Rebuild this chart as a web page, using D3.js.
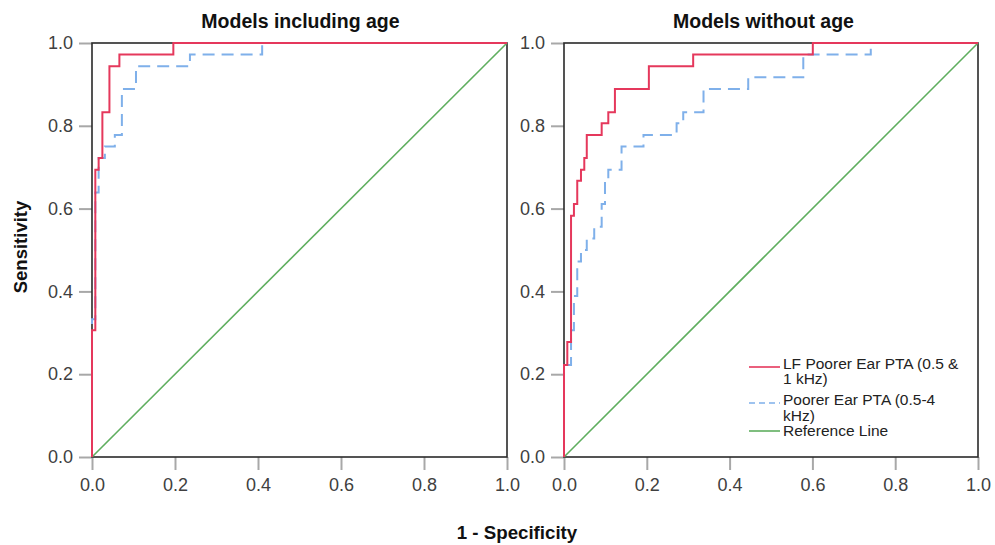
<!DOCTYPE html>
<html>
<head>
<meta charset="utf-8">
<script src="https://cdn.jsdelivr.net/npm/d3@7"></script>
<style>
  body { margin: 0; background: #fff; }
  svg { font-family: "Liberation Sans", Arial, sans-serif; }
</style>
</head>
<body>
<div id="chart"></div>
<script>
// ROC corner points (1 - specificity, sensitivity)
const ageLfFpr = [0, 0, 0.008, 0.008, 0.016, 0.016, 0.025, 0.025, 0.042, 0.042, 0.066, 0.066, 0.196, 0.196, 1]
const ageLfTpr = [0, 0.306, 0.306, 0.694, 0.694, 0.722, 0.722, 0.833, 0.833, 0.944, 0.944, 0.972, 0.972, 1, 1]

const agePtaFpr = [0, 0, 0.008, 0.008, 0.016, 0.016, 0.031, 0.031, 0.055, 0.055, 0.072, 0.072, 0.106, 0.106, 0.236, 0.236, 0.41, 0.41, 1]
const agePtaTpr = [0, 0.333, 0.333, 0.639, 0.639, 0.722, 0.722, 0.75, 0.75, 0.778, 0.778, 0.889, 0.889, 0.944, 0.944, 0.972, 0.972, 1, 1]

const noAgeLfFpr = [0, 0, 0.008, 0.008, 0.017, 0.017, 0.024, 0.024, 0.032, 0.032, 0.041, 0.041, 0.049, 0.049, 0.055, 0.055, 0.091, 0.091, 0.107, 0.107, 0.123, 0.123, 0.205, 0.205, 0.312, 0.312, 0.601, 0.601, 1]
const noAgeLfTpr = [0, 0.222, 0.222, 0.278, 0.278, 0.583, 0.583, 0.611, 0.611, 0.667, 0.667, 0.694, 0.694, 0.722, 0.722, 0.778, 0.778, 0.806, 0.806, 0.833, 0.833, 0.889, 0.889, 0.944, 0.944, 0.972, 0.972, 1, 1]

const noAgePtaFpr = [0, 0, 0.017, 0.017, 0.024, 0.024, 0.032, 0.032, 0.041, 0.041, 0.055, 0.055, 0.073, 0.073, 0.091, 0.091, 0.099, 0.099, 0.107, 0.107, 0.139, 0.139, 0.192, 0.192, 0.272, 0.272, 0.288, 0.288, 0.337, 0.337, 0.445, 0.445, 0.578, 0.578, 0.741, 0.741, 1]
const noAgePtaTpr = [0, 0.222, 0.222, 0.306, 0.306, 0.389, 0.389, 0.472, 0.472, 0.5, 0.5, 0.528, 0.528, 0.556, 0.556, 0.611, 0.611, 0.667, 0.667, 0.694, 0.694, 0.75, 0.75, 0.778, 0.778, 0.806, 0.806, 0.833, 0.833, 0.889, 0.889, 0.917, 0.917, 0.972, 0.972, 1, 1]

const refFpr = [0, 1]
const refTpr = [0, 1]

const panelTitles = ['Models including age', 'Models without age']
const tickValues = [0, 0.2, 0.4, 0.6, 0.8, 1.0]
const seriesNames = ['LF Poorer Ear PTA (0.5 & 1 kHz)', 'Poorer Ear PTA (0.5-4 kHz)', 'Reference Line']

const colors = { lf: '#e5385c', pta: '#7fb0ea', ref: '#5fae5f' }

const W = 995
const H = 545

const svg = d3.select('#chart').append('svg')
  .attr('width', W)
  .attr('height', H)

const zip = (xs, ys) => xs.map((x, i) => ({ x: x, y: ys[i] }))

const panels = [
  { left: 92, right: 507, titleX: 300.5, title: panelTitles[0], lf: zip(ageLfFpr, ageLfTpr), pta: zip(agePtaFpr, agePtaTpr) },
  { left: 564, right: 978, titleX: 763.5, title: panelTitles[1], lf: zip(noAgeLfFpr, noAgeLfTpr), pta: zip(noAgePtaFpr, noAgePtaTpr) }
]
const plotTop = 43
const plotBottom = 457

panels.forEach(function (p, idx) {
  const x = d3.scaleLinear().domain([0, 1]).range([p.left, p.right])
  const y = d3.scaleLinear().domain([0, 1]).range([plotBottom, plotTop])

  const g = svg.append('g')

  // y axis
  g.append('g')
    .attr('transform', 'translate(' + p.left + ',0)')
    .call(d3.axisLeft(y).tickValues(tickValues).tickSize(13).tickPadding(6).tickFormat(d3.format('.1f')))
    .call(a => a.select('.domain').remove())
    .call(a => a.selectAll('.tick line').attr('stroke', '#a8a8a8').attr('stroke-width', 2))
    .call(a => a.selectAll('.tick text').attr('fill', '#404040').style('font-size', '18px'))

  // x axis
  g.append('g')
    .attr('transform', 'translate(0,' + plotBottom + ')')
    .call(d3.axisBottom(x).tickValues(tickValues).tickSize(13).tickPadding(8).tickFormat(d3.format('.1f')))
    .call(a => a.select('.domain').remove())
    .call(a => a.selectAll('.tick line').attr('stroke', '#a8a8a8').attr('stroke-width', 2))
    .call(a => a.selectAll('.tick text').attr('fill', '#404040').style('font-size', '18px'))

  // frame
  g.append('rect')
    .attr('x', p.left)
    .attr('y', plotTop)
    .attr('width', p.right - p.left)
    .attr('height', plotBottom - plotTop)
    .attr('fill', 'none')
    .attr('stroke', '#2a2a2a')
    .attr('stroke-width', 1.6)

  const line = d3.line().x(d => x(d.x)).y(d => y(d.y))

  g.append('path')
    .attr('d', line(zip(refFpr, refTpr)))
    .attr('fill', 'none')
    .attr('stroke', colors.ref)
    .attr('stroke-width', 1.6)

  g.append('path')
    .attr('d', line(p.pta))
    .attr('fill', 'none')
    .attr('stroke', colors.pta)
    .attr('stroke-width', 2)
    .attr('stroke-dasharray', '12,7')

  g.append('path')
    .attr('d', line(p.lf))
    .attr('fill', 'none')
    .attr('stroke', colors.lf)
    .attr('stroke-width', 2)

  g.append('text')
    .attr('x', p.titleX)
    .attr('y', 28)
    .attr('text-anchor', 'middle')
    .style('font-size', '19.5px')
    .style('font-weight', 'bold')
    .attr('fill', '#111')
    .text(p.title)

  // legend in the second panel
  if (idx === 1) {
    const lg = g.append('g')
    const items = [
      { color: colors.lf, dash: null, ly: 367, lines: ['LF Poorer Ear PTA (0.5 &', '1 kHz)'], ty: 368.5 },
      { color: colors.pta, dash: '6,4', ly: 403, lines: ['Poorer Ear PTA (0.5-4', 'kHz)'], ty: 405 },
      { color: colors.ref, dash: null, ly: 431, lines: ['Reference Line'], ty: 436 }
    ]
    items.forEach(function (it, i) {
      lg.append('line')
        .attr('x1', 749).attr('x2', 780)
        .attr('y1', it.ly).attr('y2', it.ly)
        .attr('stroke', it.color)
        .attr('stroke-width', 1.6)
        .attr('stroke-dasharray', it.dash)
      const t = lg.append('text')
        .attr('x', 783)
        .attr('y', it.ty)
        .style('font-size', '15.5px')
        .attr('fill', '#222')
        .attr('aria-label', seriesNames[i])
      it.lines.forEach(function (s, j) {
        t.append('tspan').attr('x', 783).attr('dy', j === 0 ? 0 : 15.5).text(s)
      })
    })
  }
})

svg.append('text')
  .attr('x', 517)
  .attr('y', 539)
  .attr('text-anchor', 'middle')
  .style('font-size', '18.7px')
  .style('font-weight', 'bold')
  .attr('fill', '#111')
  .text('1 - Specificity')

svg.append('text')
  .attr('transform', 'translate(27,247) rotate(-90)')
  .attr('text-anchor', 'middle')
  .style('font-size', '18.5px')
  .style('font-weight', 'bold')
  .attr('fill', '#111')
  .text('Sensitivity')
</script>
</body>
</html>
